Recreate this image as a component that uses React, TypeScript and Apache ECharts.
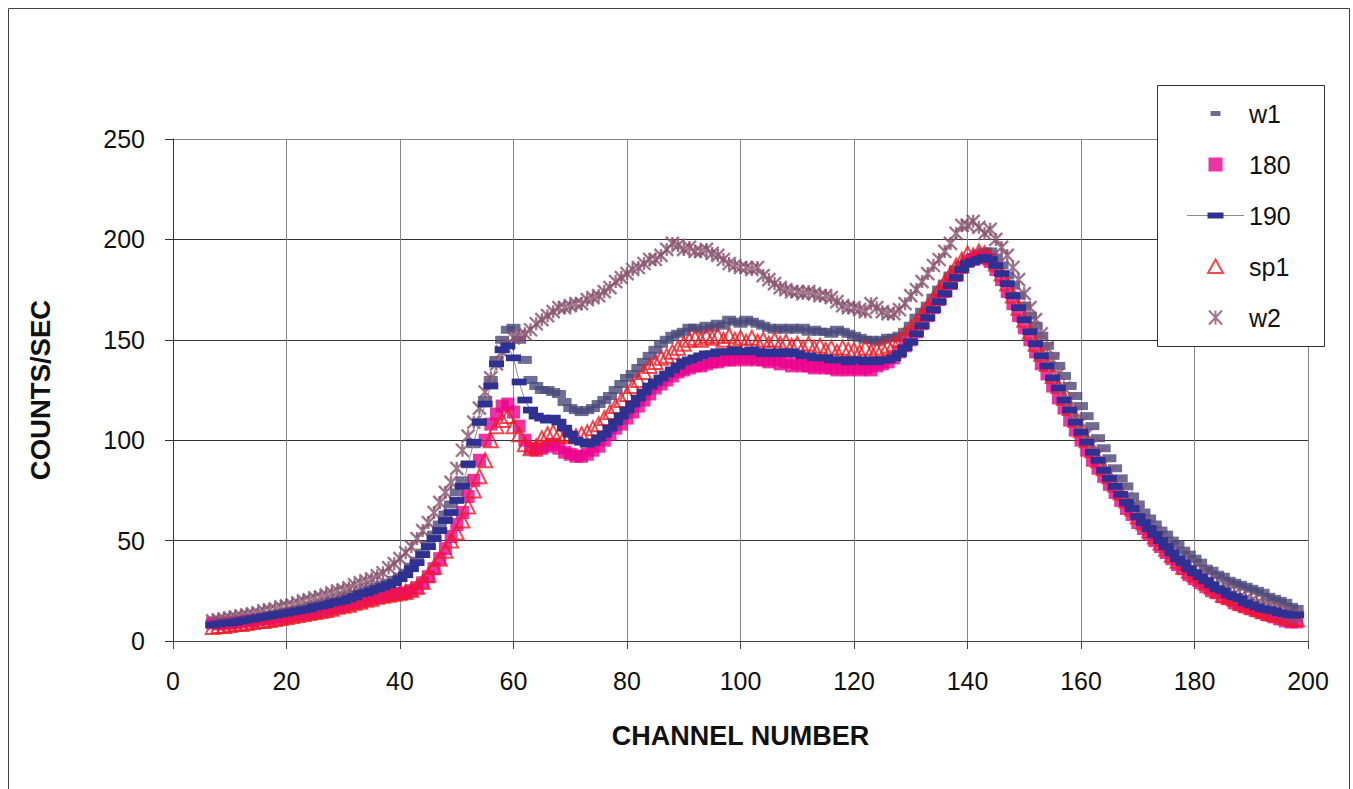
import React, { useEffect, useRef } from "react";
import * as echarts from "echarts";

// Channel numbers run from FIRST_CHANNEL, one value per channel
const FIRST_CHANNEL = 7;

const xTicks = [0, 20, 40, 60, 80, 100, 120, 140, 160, 180, 200];
const yTicks = [0, 50, 100, 150, 200, 250];

const seriesNames = ["w1", "180", "190", "sp1", "w2"];

const w1Values = [
  9, 9, 9.5, 10, 10, 10.5, 11, 11.5, 12, 12.5,
  13, 13.5, 14, 14.5, 15, 15.5, 16, 16.5, 17.5, 18,
  18.5, 19.5, 20, 21, 22, 23, 24, 25, 26, 27,
  28, 29, 30.5, 32, 34, 37, 40, 44, 48, 53,
  58, 63, 68, 74, 80, 88, 98, 109, 120, 130,
  140, 150, 155, 156, 150, 140, 130, 127, 125, 125,
  124, 123, 119, 116, 115, 114, 115, 116, 118, 120,
  122, 125, 128, 131, 133, 136, 139, 142, 145, 148,
  150, 152, 153, 154, 156, 156, 155, 157, 156, 158,
  157, 160, 159, 158, 160, 159, 158, 157, 156, 155,
  156, 155, 156, 155, 156, 154, 155, 154, 154, 153,
  155, 154, 153, 152, 151, 150, 150, 149, 150, 151,
  151, 152, 154, 157, 161, 164, 167, 171, 175, 178,
  182, 185, 187, 189, 191, 193, 194, 194, 191, 187,
  182, 177, 172, 167, 162, 157, 152, 147, 142, 137,
  132, 127, 122, 117, 112, 107, 101, 96, 91, 86,
  81, 77, 72, 68, 64, 61, 58, 55, 53, 50,
  48, 45, 43, 41, 39, 36, 35, 33, 32, 30,
  29, 28, 27, 26, 25, 24, 22, 21, 20, 19,
  17, 16,
];

const v180Values = [
  9, 8.5, 8.5, 9, 9, 9.5, 10, 10, 10.5, 11,
  11, 11.5, 12, 12, 12.5, 13, 13.5, 14, 14.5, 15,
  15.5, 16, 17, 17.5, 18, 19, 19.5, 20.5, 21, 22,
  22.5, 23, 23.5, 23.5, 24, 25, 26.5, 29, 32, 36,
  41, 46, 52, 58, 64, 72, 80, 90, 100, 108,
  113, 117, 118, 114, 107, 100, 96, 95, 96, 97,
  98, 96, 94, 93, 92, 92, 93, 95, 97, 100,
  103, 106, 108, 111, 114, 117, 120, 123, 126, 128,
  130, 132, 134, 135, 136, 137, 137, 138, 139, 139,
  140, 140, 140, 141, 140, 141, 140, 140, 139, 140,
  138, 139, 137, 138, 137, 137, 136, 137, 136, 136,
  135, 136, 135, 136, 135, 136, 135, 137, 138, 139,
  141, 144, 147, 150, 154, 158, 162, 166, 170, 174,
  178, 182, 186, 189, 190, 191, 191, 189, 185, 180,
  174, 168, 162, 156, 150, 144, 138, 133, 127, 121,
  116, 110, 105, 100, 95, 90, 86, 82, 78, 74,
  70, 66, 63, 59, 56, 53, 50, 47, 44, 41,
  38, 36, 33, 31, 29, 27, 25, 24, 22, 21,
  19, 18, 17, 16, 15, 14, 13, 12, 11, 10,
  9.5, 9.5,
];

const v190Values = [
  8, 8.5, 9, 9, 9.5, 10, 10.5, 11, 11.5, 12,
  12.5, 13, 13.5, 14, 14.5, 15, 15.5, 16, 17, 17.5,
  18, 19, 19.5, 20, 21, 22, 23.5, 24, 25, 26,
  27, 28, 29, 31, 33, 36, 39, 43, 47, 51,
  55, 60, 64, 70, 77, 88, 99, 109, 118, 127,
  138, 145, 147, 141, 129, 120, 115, 112, 111, 110,
  111, 109, 106, 103, 100, 99, 98, 99, 101, 103,
  106, 109, 112, 115, 118, 121, 124, 127, 129, 131,
  133, 135, 137, 139, 140, 141, 142, 143, 143, 144,
  144, 144, 145, 144, 144, 145, 144, 143, 144, 143,
  144, 143, 144, 143, 142, 142, 141, 141, 141, 140,
  140, 140, 139, 140, 140, 139, 140, 139, 140, 140,
  141, 143, 146, 149, 153, 157, 161, 165, 169, 173,
  177, 181, 185, 188, 189, 190, 191, 190, 187, 183,
  178, 172, 166, 160, 154, 148, 142, 137, 131, 126,
  120, 115, 109, 104, 99, 94, 90, 85, 81, 77,
  73, 69, 66, 62, 59, 56, 53, 50, 47, 44,
  41, 39, 36, 34, 32, 30, 28, 26, 25, 23,
  22, 21, 19, 18, 17, 16, 15.5, 15, 14, 13.5,
  13, 13,
];

const sp1Values = [
  7, 7.5, 7.5, 8, 8.5, 8.5, 9, 9.5, 10, 10,
  10.5, 11, 11.5, 12, 12.5, 13, 13.5, 14, 14.5, 15,
  15.5, 16, 17, 17.5, 18, 19, 19.5, 20.5, 21, 22,
  22.5, 23, 23.5, 24, 24.5, 25.5, 27, 29.5, 33, 37,
  41, 45, 50, 54, 60, 67, 75, 82, 90, 100,
  107, 110, 112, 107, 103, 98, 96, 97, 101, 103,
  104, 103, 102, 103, 102, 103, 104, 106, 108, 111,
  114, 117, 120, 123, 127, 130, 134, 137, 139, 141,
  142, 144, 146, 148, 150, 151, 150, 152, 151, 152,
  150, 152, 150, 151, 149, 151, 149, 150, 148, 150,
  148, 149, 147, 148, 146, 148, 146, 147, 145, 146,
  144, 146, 145, 145, 144, 146, 144, 145, 146, 147,
  148, 150, 153, 156, 159, 163, 167, 171, 175, 179,
  183, 187, 190, 193, 192, 194, 193, 191, 188, 183,
  178, 172, 166, 160, 154, 148, 143, 138, 132, 127,
  121, 116, 110, 105, 100, 95, 90, 86, 82, 78,
  74, 70, 66, 62, 59, 55, 52, 49, 46, 43,
  40, 37, 35, 33, 31, 29, 27, 25, 23, 22,
  21, 19, 18, 17, 16, 15, 14, 13.5, 13, 12,
  11.5, 11,
];

const w2Values = [
  10, 10.5, 11, 11.5, 12, 12.5, 13, 13.5, 14, 15,
  15.5, 16, 17, 17.5, 18, 19, 20, 20.5, 21.5, 22,
  23, 24, 25, 25.5, 26.5, 28, 29, 30, 31, 32.5,
  34, 36.5, 38.5, 41, 44, 47, 51, 55, 59, 64,
  69, 74, 79, 86, 95, 102, 109, 116, 124, 131,
  138, 144, 148, 151, 152, 153, 155, 158, 160, 162,
  164, 166, 166, 167, 168, 168, 170, 171, 172, 174,
  176, 179, 181, 183, 185, 186, 188, 190, 190, 192,
  195, 198, 197, 195, 196, 194, 194, 195, 193, 192,
  190, 188, 187, 186, 186, 185, 186, 182, 180, 178,
  176, 175, 174, 174, 173, 174, 173, 172, 172, 171,
  169, 167, 166, 166, 165, 164, 168, 166, 164, 163,
  163, 165, 168, 172, 175, 179, 183, 187, 190, 194,
  198, 203, 207, 207, 209, 206, 203, 205, 200, 196,
  192, 186, 180, 173, 166, 160, 153, 146, 140, 133,
  126, 120, 114, 109, 103, 98, 93, 88, 84, 79,
  75, 71, 67, 64, 60, 57, 54, 51, 48, 45,
  43, 40, 38, 36, 34, 32, 30, 28, 26, 25,
  23.5, 22, 21, 20, 19, 18, 17, 16, 15, 14,
  13, 12,
];

const toPoints = (vals: number[]) => vals.map((v, i) => [FIRST_CHANNEL + i, v]);

const FONT = "'Liberation Sans', Arial, Helvetica, sans-serif";
const C_W1 = "#4A4A7A";
const C_180 = "#EC008C";
const C_190 = "#2E3192";
const C_SP1 = "#ED1C24";
const C_W2 = "#87526F";

const DASH_190 = "path://M0,0M16,16M0,5h16v6h-16z";
const STAR = "path://M0,0L10,10M10,0L0,10M5,0L5,10";

export default function App() {
  const ref = useRef<HTMLDivElement>(null);

  useEffect(() => {
    if (!ref.current) return;
    const chart = echarts.init(ref.current, null, { renderer: "svg" });
    const option: any = {
      animation: false,
      backgroundColor: "#ffffff",
      grid: { left: 173, right: 45, top: 139, bottom: 148, containLabel: false },
      xAxis: {
        type: "value",
        min: xTicks[0],
        max: xTicks[xTicks.length - 1],
        interval: xTicks[1] - xTicks[0],
        name: "CHANNEL NUMBER",
        nameLocation: "middle",
        nameGap: 81,
        nameTextStyle: { fontFamily: FONT, fontSize: 27, fontWeight: "bold", color: "#111" },
        axisLine: { show: true, onZero: false, lineStyle: { color: "#444", width: 1 } },
        axisTick: { show: true, length: 8, lineStyle: { color: "#444", width: 1 } },
        axisLabel: { fontFamily: FONT, fontSize: 25, color: "#111", margin: 27 },
        splitLine: { show: true, lineStyle: { color: "#888", width: 1 } },
      },
      yAxis: {
        type: "value",
        min: yTicks[0],
        max: yTicks[yTicks.length - 1],
        interval: yTicks[1] - yTicks[0],
        name: "COUNTS/SEC",
        nameLocation: "middle",
        nameRotate: 90,
        nameGap: 119,
        nameTextStyle: { fontFamily: FONT, fontSize: 27.5, fontWeight: "bold", color: "#111" },
        axisLine: { show: true, lineStyle: { color: "#333", width: 1 } },
        axisTick: { show: true, length: 8, lineStyle: { color: "#333", width: 1 } },
        axisLabel: { fontFamily: FONT, fontSize: 25, color: "#111", margin: 28 },
        splitLine: {
          show: true,
          lineStyle: { color: ["#333", "#333", "#333", "#333", "#333", "#888"], width: 1 },
        },
      },
      legend: {
        orient: "vertical",
        left: 1186,
        top: 101,
        padding: 0,
        itemWidth: 57,
        itemHeight: 20,
        itemGap: 26,
        selectedMode: false,
        z: 20,
        textStyle: { fontFamily: FONT, fontSize: 25, color: "#111", lineHeight: 25 },
        data: [
          { name: "w1", icon: "path://M0,0M57,20M23.5,7.5h10v5h-10z" },
          { name: "180", icon: "path://M0,0M57,20M21.5,3h14v14h-14z" },
          { name: "190", lineStyle: { width: 1 } },
          {
            name: "sp1",
            icon: "path://M0,0M57,20M28.5,3L36,16.5L21,16.5Z",
            itemStyle: { color: "rgba(0,0,0,0)", borderColor: C_SP1, borderWidth: 2 },
          },
          {
            name: "w2",
            icon: "path://M0,0M57,20M22,3L35,17M35,3L22,17M28.5,3L28.5,17",
            itemStyle: { color: "rgba(0,0,0,0)", borderColor: C_W2, borderWidth: 2 },
          },
        ],
      },
      graphic: [
        {
          type: "rect",
          z: 0,
          silent: true,
          shape: { x: 8.5, y: 8.5, width: 1341, height: 820 },
          style: { fill: "none", stroke: "#444", lineWidth: 1 },
        },
        {
          type: "rect",
          z: 10,
          silent: true,
          shape: { x: 1157.5, y: 85.5, width: 167, height: 261 },
          style: { fill: "#ffffff", stroke: "#333", lineWidth: 1 },
        },
      ],
      series: [
        {
          name: seriesNames[0],
          type: "scatter",
          symbol: "rect",
          symbolSize: [14, 8],
          itemStyle: { color: C_W1 },
          data: toPoints(w1Values),
        },
        {
          name: seriesNames[1],
          type: "scatter",
          symbol: "rect",
          symbolSize: 13,
          itemStyle: { color: C_180 },
          data: toPoints(v180Values),
        },
        {
          name: seriesNames[2],
          type: "line",
          symbol: DASH_190,
          symbolSize: [15, 18],
          showSymbol: true,
          showAllSymbol: true,
          itemStyle: { color: C_190 },
          lineStyle: { color: "#8c8c8c", width: 1 },
          data: toPoints(v190Values),
        },
        {
          name: seriesNames[3],
          type: "scatter",
          symbol: "triangle",
          symbolSize: 14,
          itemStyle: { color: "rgba(0,0,0,0)", borderColor: C_SP1, borderWidth: 2 },
          data: toPoints(sp1Values),
        },
        {
          name: seriesNames[4],
          type: "scatter",
          symbol: STAR,
          symbolSize: 13,
          itemStyle: { color: "rgba(0,0,0,0)", borderColor: C_W2, borderWidth: 2.4 },
          data: toPoints(w2Values),
        },
      ],
    };
    chart.setOption(option);
    return () => chart.dispose();
  }, []);

  return (
    <div
      ref={ref}
      style={{ position: "absolute", left: 0, top: 0, width: 1353, height: 789, background: "#fff" }}
    />
  );
}
